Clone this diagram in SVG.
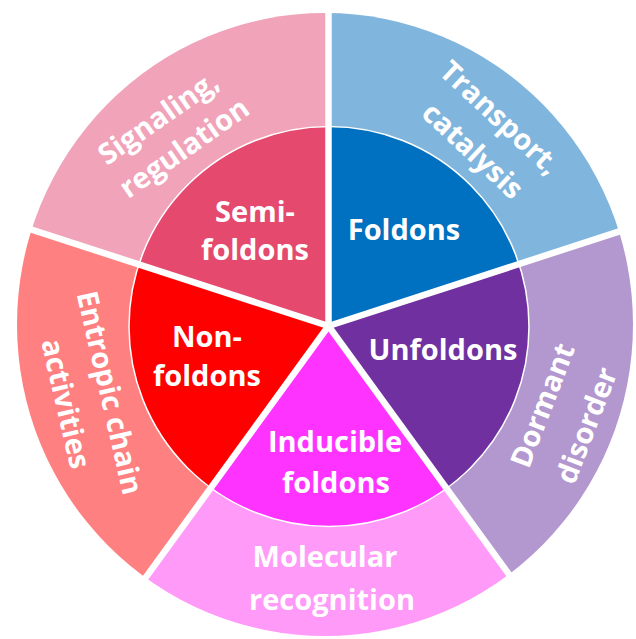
<svg xmlns="http://www.w3.org/2000/svg" width="636" height="639" viewBox="0 0 636 639">
<defs>
<style>
.t{fill:#fff;font-family:"Open Sans","Liberation Sans",sans-serif;font-weight:700;font-size:29px;text-anchor:middle}
.sep{stroke:#fff;stroke-width:6.5;fill:none;stroke-linecap:butt}
</style>
<clipPath id="outerClip"><ellipse cx="325" cy="324.5" rx="308" ry="311.5"/></clipPath>
<clipPath id="innerClip"><circle cx="329" cy="326.5" r="200"/></clipPath>
</defs>
<rect width="636" height="639" fill="#fff"/>

<g id="signaling">
<path clip-path="url(#outerClip)" d="M328.5,326 L328.5,-174 L-147.5,171.5 Z" fill="#F1A3B9"/>
<path clip-path="url(#innerClip)" d="M328.5,326 L328.5,-174 L-147.5,171.5 Z" fill="#E5496E"/>
<text class="t" transform="translate(164,126) rotate(-35)">Signaling,</text>
<text class="t" transform="translate(190,156) rotate(-35)">regulation</text>
<text class="t" x="255" y="222">Semi-</text>
<text class="t" x="255" y="260">foldons</text>
</g>

<g id="transport">
<path clip-path="url(#outerClip)" d="M328.5,326 L328.5,-174 L803.5,171.5 Z" fill="#80B5DD"/>
<path clip-path="url(#innerClip)" d="M328.5,326 L328.5,-174 L803.5,171.5 Z" fill="#0070C0"/>
<text class="t" transform="translate(493,125) rotate(43)">Transport,</text>
<text class="t" transform="translate(466,158) rotate(43)">catalysis</text>
<text class="t" x="404" y="240">Foldons</text>
</g>

<g id="dormant">
<path clip-path="url(#outerClip)" d="M328.5,326 L803.5,171.5 L622.5,730.5 Z" fill="#B397CF"/>
<path clip-path="url(#innerClip)" d="M328.5,326 L803.5,171.5 L622.5,730.5 Z" fill="#7030A0"/>
<text class="t" transform="translate(552,409) rotate(-69)">Dormant</text>
<text class="t" transform="translate(596,429) rotate(-69)">disorder</text>
<text class="t" x="443" y="360">Unfoldons</text>
</g>

<g id="molecular">
<path clip-path="url(#outerClip)" d="M328.5,326 L622.5,730.5 L34.5,730.5 Z" fill="#FF9AF8"/>
<path clip-path="url(#innerClip)" d="M328.5,326 L622.5,730.5 L34.5,730.5 Z" fill="#FF33FF"/>
<text class="t" x="325" y="567">Molecular</text>
<text class="t" x="332" y="610">recognition</text>
<text class="t" x="335" y="452">Inducible</text>
<text class="t" x="336" y="493">foldons</text>
</g>

<g id="entropic">
<path clip-path="url(#outerClip)" d="M328.5,326 L34.5,730.5 L-147.5,171.5 Z" fill="#FF8080"/>
<path clip-path="url(#innerClip)" d="M328.5,326 L34.5,730.5 L-147.5,171.5 Z" fill="#FF0000"/>
<text class="t" transform="translate(100,395) rotate(77)">Entropic chain</text>
<text class="t" transform="translate(56,406) rotate(77)">activities</text>
<text class="t" x="207" y="347">Non-</text>
<text class="t" x="207" y="386">foldons</text>
</g>

<g id="connectors">
<circle cx="329" cy="326.5" r="200" fill="none" stroke="#fff" stroke-width="1.5"/>
<path class="sep" d="M328.5,326 L328.5,-174"/>
<path class="sep" d="M328.5,326 L803.5,171.5"/>
<path class="sep" d="M328.5,326 L622.5,730.5"/>
<path class="sep" d="M328.5,326 L34.5,730.5"/>
<path class="sep" d="M328.5,326 L-147.5,171.5"/>
</g>
</svg>
